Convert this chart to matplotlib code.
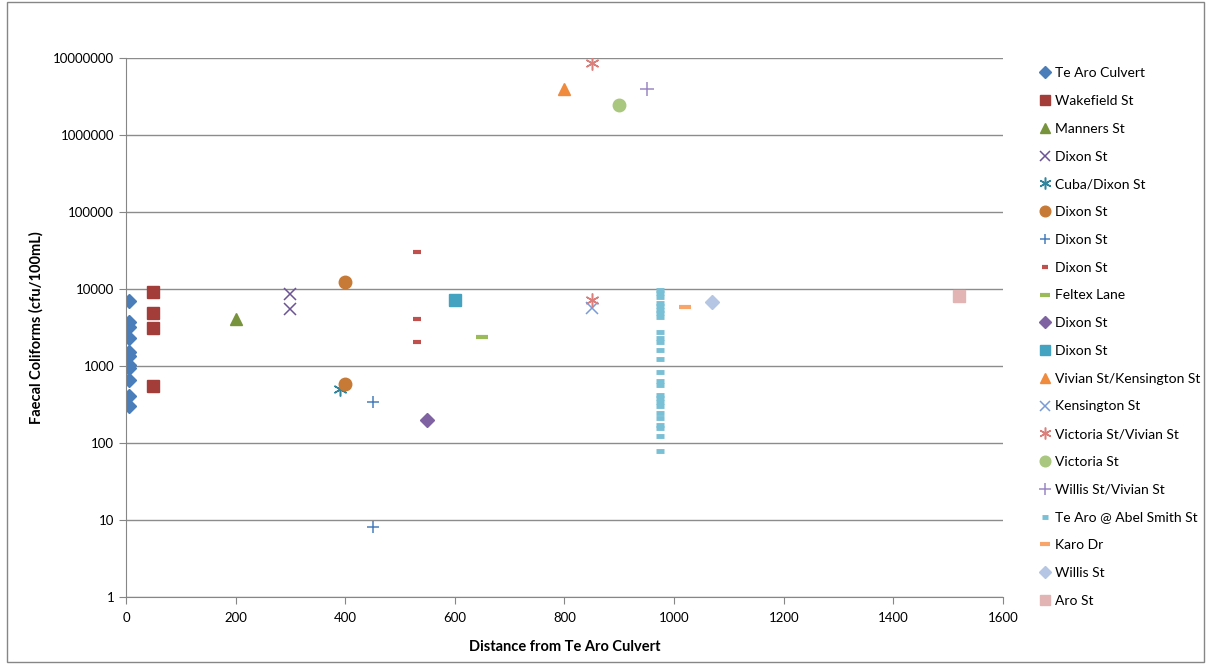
import numpy as np
import matplotlib
matplotlib.use('Agg')
import matplotlib.pyplot as plt
from matplotlib.ticker import FixedLocator, FuncFormatter
from matplotlib.patches import Rectangle

plt.rcParams['font.family'] = ['Lato', 'DejaVu Sans']

# data: distance (m) and faecal coliforms (cfu/100mL)
te_aro_culvert_x = [5] * 11
te_aro_culvert_y = [7050, 3760, 3180, 2290, 1535, 1350, 1030, 930, 660, 410, 300]
wakefield_x = [50, 50, 50, 50]
wakefield_y = [9230, 4920, 3140, 550]
manners_x = [200]
manners_y = [4040]
dixon_x_x = [300, 300]
dixon_x_y = [8610, 5450]
cuba_dixon_x = [390]
cuba_dixon_y = [500]
dixon_circle_x = [400, 400]
dixon_circle_y = [12300, 580]
dixon_plus_x = [450, 450]
dixon_plus_y = [340, 8]
dixon_dash_x = [530, 530, 530]
dixon_dash_y = [30300, 4040, 2030]
feltex_x = [650]
feltex_y = [2400]
dixon_diamond_x = [550]
dixon_diamond_y = [200]
dixon_square_x = [600]
dixon_square_y = [7200]
vivian_kens_x = [800]
vivian_kens_y = [3900000]
kensington_x = [850]
kensington_y = [5720]
victoria_vivian_x = [850, 850]
victoria_vivian_y = [8700000, 7200]
victoria_x = [900]
victoria_y = [2450000]
willis_vivian_x = [950]
willis_vivian_y = [3920000]
abel_smith_y = [9700, 8790, 7940, 6640, 6010, 5340, 4830, 4290, 2740, 2290, 2030,
                1610, 1220, 843, 638, 566, 420, 380, 338, 305, 243, 213, 171, 155,
                123, 79]
abel_smith_x = [975] * len(abel_smith_y)
karo_x = [1020]
karo_y = [5780]
willis_x = [1070]
willis_y = [6720]
aro_x = [1520]
aro_y = [8110]

series = [
    ('Te Aro Culvert', te_aro_culvert_x, te_aro_culvert_y, dict(marker='D', ms=7.2, color='#4a7ebb')),
    ('Wakefield St', wakefield_x, wakefield_y, dict(marker='s', ms=8.5, color='#a33d3a')),
    ('Manners St', manners_x, manners_y, dict(marker='^', ms=9, color='#77933c')),
    ('Dixon St', dixon_x_x, dixon_x_y, dict(marker='x', ms=9, mew=1.1, color='#6b5394')),
    ('Cuba/Dixon St', cuba_dixon_x, cuba_dixon_y, dict(marker=(6, 2, 0), ms=10, mew=1.1, color='#31859c')),
    ('Dixon St', dixon_circle_x, dixon_circle_y, dict(marker='o', ms=9, color='#c77a35')),
    ('Dixon St', dixon_plus_x, dixon_plus_y, dict(marker='+', ms=9, mew=1.1, color='#4a7ebb')),
    ('Dixon St', dixon_dash_x, dixon_dash_y, dict(marker='_', ms=5.5, mew=3, color='#c0504d')),
    ('Feltex Lane', feltex_x, feltex_y, dict(marker='_', ms=9, mew=3, color='#9bbb59')),
    ('Dixon St', dixon_diamond_x, dixon_diamond_y, dict(marker='D', ms=7, color='#7e62a1')),
    ('Dixon St', dixon_square_x, dixon_square_y, dict(marker='s', ms=8.5, color='#43a3c1')),
    ('Vivian St/Kensington St', vivian_kens_x, vivian_kens_y, dict(marker='^', ms=9, color='#f08a3c')),
    ('Kensington St', kensington_x, kensington_y, dict(marker='x', ms=9, mew=1.1, color='#7b9bd6')),
    ('Victoria St/Vivian St', victoria_vivian_x, victoria_vivian_y, dict(marker=(6, 2, 0), ms=10, mew=1.1, color='#d9807d')),
    ('Victoria St', victoria_x, victoria_y, dict(marker='o', ms=9, color='#a9c77e')),
    ('Willis St/Vivian St', willis_vivian_x, willis_vivian_y, dict(marker='+', ms=10, mew=1.1, color='#9c88c4')),
    ('Te Aro @ Abel Smith St', abel_smith_x, abel_smith_y, dict(marker='_', ms=5.5, mew=3.5, color='#79bfd5')),
    ('Karo Dr', karo_x, karo_y, dict(marker='_', ms=9, mew=3, color='#f9a56a')),
    ('Willis St', willis_x, willis_y, dict(marker='D', ms=7, color='#b4c6e4')),
    ('Aro St', aro_x, aro_y, dict(marker='s', ms=8.5, color='#e3b4b4')),
]

fig = plt.figure(figsize=(12.08, 6.64), dpi=100)
ax = fig.add_axes([0.1043, 0.1009, 0.7260, 0.8118])

for name, xs, ys, st in series:
    ax.plot(xs, ys, linestyle='none', label=name, **st)

ax.set_yscale('log')
ax.set_ylim(1, 10000000)
ax.set_xlim(0, 1600)
yt = [1, 10, 100, 1000, 10000, 100000, 1000000, 10000000]
ax.yaxis.set_major_locator(FixedLocator(yt))
ax.yaxis.set_minor_locator(FixedLocator([]))
ax.yaxis.set_major_formatter(FuncFormatter(lambda v, p: '%d' % round(v)))
ax.set_xticks(np.arange(0, 1601, 200))
ax.grid(axis='y', color='#8c8c8c', linewidth=1)
ax.set_axisbelow(True)
for s in ['top', 'right']:
    ax.spines[s].set_visible(False)
for s in ['left', 'bottom']:
    ax.spines[s].set_color('#868686')
ax.tick_params(axis='both', colors='#868686', labelcolor='black', labelsize=9.5, length=5)
ax.tick_params(axis='x', pad=6)

ax.set_xlabel('Distance from Te Aro Culvert', fontsize=10.5, fontweight='bold', labelpad=11)
ax.set_ylabel('Faecal Coliforms (cfu/100mL)', fontsize=10.5, fontweight='bold', labelpad=7)

leg = ax.legend(loc='upper left', bbox_to_anchor=(1.035, 0.993), frameon=False,
                fontsize=10, handlelength=0.8, handletextpad=0.3, markerscale=0.85,
                labelspacing=1.135, borderaxespad=0, numpoints=1)

fig.patches.append(Rectangle((0.006, 0.003), 0.991, 0.994, transform=fig.transFigure,
                             fill=False, edgecolor='#868686', linewidth=1))

fig.savefig('out.png', dpi=100)
